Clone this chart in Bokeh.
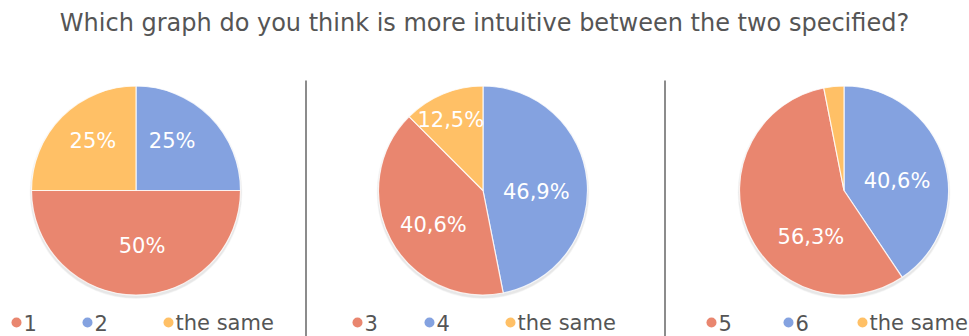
import numpy as np
from bokeh.plotting import figure
from bokeh.models import Range1d, ColumnDataSource
from bokeh.core.properties import value
from bokeh.embed import file_html
from bokeh.resources import INLINE

# ---------------- data ----------------
title_text = "Which graph do you think is more intuitive between the two specified?"

chart1_labels = ["1", "2", "the same"]
chart1_values = [50.0, 25.0, 25.0]

chart2_labels = ["3", "4", "the same"]
chart2_values = [40.6, 46.9, 12.5]

chart3_labels = ["5", "6", "the same"]
chart3_values = [56.3, 40.6, 3.1]

charts_labels = [chart1_labels, chart2_labels, chart3_labels]
charts_values = [chart1_values, chart2_values, chart3_values]

# ---------------- style / layout ----------------
W, H = 969, 336
colors = ["#E9866F", "#84A2E0", "#FFC066"]
draw_order = [1, 0, 2]          # clockwise from 12 o'clock: second, first, same
pie_cx = [135.5, 482.5, 843.5]
pie_cy_screen = 190
radius = 104.5
# small pixel nudges (screen dx, dy) of the slice labels, per chart, per category
label_nudge = [[(6, -4), (-6, -7), (-1, -7)],
               [(3, 6), (-6, 7), (-3, 0)],
               [(22, 24), (-4, 8), (0, 0)]]
legend_dot_x = [[16, 87, 168], [357, 429, 510], [711, 788, 862]]
legend_y_screen = 322
sep_x = [305.5, 664.5]
sep_top_screen = 80
FONT = "DejaVu Sans"
GRAY = "#555555"


def fmt(v):
    if abs(v - round(v)) < 1e-9:
        return f"{int(round(v))}%"
    return f"{v:.1f}".replace(".", ",") + "%"


p = figure(width=W, height=H, x_range=Range1d(0, W), y_range=Range1d(0, H),
           output_backend="svg", toolbar_location=None, min_border=0)
p.axis.visible = False
p.grid.visible = False
p.outline_line_color = None
p.background_fill_color = "white"
p.border_fill_color = "white"

cy = H - pie_cy_screen

for ci in range(3):
    vals = charts_values[ci]
    labs = charts_labels[ci]
    cx = pie_cx[ci]
    total = sum(vals)

    # soft shadow
    for k, a in [(4, 0.025), (3, 0.03), (2, 0.04)]:
        p.circle(x=[cx], y=[cy - 2], radius=radius + k * 0.5,
                 fill_color="black", fill_alpha=a, line_color=None)

    starts, ends, fills, lx, ly, ltxt = [], [], [], [], [], []
    cum = 0.0
    for idx in draw_order:
        frac = vals[idx] / total
        a0 = np.pi / 2 - 2 * np.pi * cum
        a1 = np.pi / 2 - 2 * np.pi * (cum + frac)
        starts.append(a0)
        ends.append(a1)
        fills.append(colors[idx])
        if frac >= 0.05:
            mid = (a0 + a1) / 2
            rf = 0.73 if frac < 0.15 else 0.57
            ndx, ndy = label_nudge[ci][idx]
            lx.append(cx + rf * radius * np.cos(mid) + ndx)
            ly.append(cy + rf * radius * np.sin(mid) - ndy)
            ltxt.append(fmt(vals[idx]))
        cum += frac

    src = ColumnDataSource(dict(x=[cx] * 3, y=[cy] * 3, s=starts, e=ends, c=fills))
    p.wedge(x="x", y="y", radius=radius, start_angle="s", end_angle="e",
            direction="clock", fill_color="c", line_color="white",
            line_width=1.2, line_alpha=0.8, source=src)

    p.text(x=lx, y=ly, text=ltxt, text_align="center", text_baseline="middle",
           text_font=value(FONT), text_font_size="21px", text_color="white")

    # legend
    ly_leg = H - legend_y_screen
    p.scatter(x=legend_dot_x[ci], y=[ly_leg] * 3, size=10, color=colors,
              line_color=None)
    p.text(x=[d + 7 for d in legend_dot_x[ci]], y=[ly_leg] * 3, text=labs,
           text_align="left", text_baseline="middle",
           text_font=value(FONT), text_font_size="21px", text_color=GRAY)

# separators
p.segment(x0=sep_x, y0=[0, 0], x1=sep_x, y1=[H - sep_top_screen] * 2,
          line_color="#666666", line_width=1.5)

# title
p.text(x=[W / 2 - 0.5], y=[H - 22], text=[title_text], text_align="center",
       text_baseline="middle", text_font=value(FONT), text_font_size="24px",
       text_color=GRAY)

open("out.html", "w").write(file_html(p, INLINE))
